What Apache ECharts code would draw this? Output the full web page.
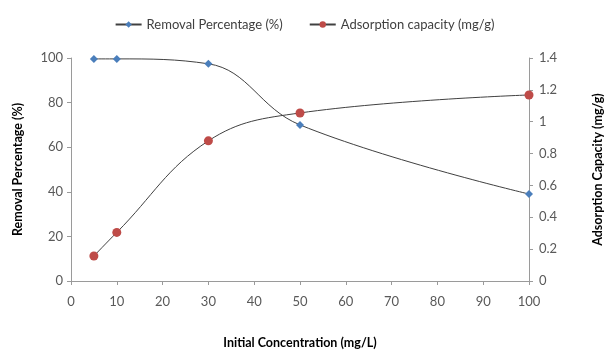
<!DOCTYPE html>
<html><head><meta charset="utf-8">
<script src="https://cdn.jsdelivr.net/npm/echarts@6/dist/echarts.min.js"></script>
<style>html,body{margin:0;padding:0;background:#fff}#c{width:609px;height:352px}</style>
</head><body><div id="c"></div>
<script>
const concentrations = [5, 10, 30, 50, 100];
const removalPct = [99.6, 99.6, 97.4, 70, 39];
const adsorptionCap = [0.157, 0.305, 0.88, 1.055, 1.168];
const xTicks = {min: 0, max: 100, interval: 10};
const yLeftTicks = {min: 0, max: 100, interval: 20};
const yRightTicks = {min: 0, max: 1.4, interval: 0.2};

const font = 'Lato, sans-serif';
const axisLine = {show: true, lineStyle: {color: '#9a9a9a', width: 1}};
const axisTick = {show: true, length: 4, lineStyle: {color: '#9a9a9a'}};
const axisLabel = {color: '#595959', fontSize: 13, fontFamily: font};
const nameStyle = {color: '#000', fontSize: 12.5, fontWeight: 'bold', fontFamily: font};

const chart = echarts.init(document.getElementById('c'), null, {renderer: 'canvas'});
chart.setOption({
  animation: false,
  legend: {
    top: 13, left: 'center', itemGap: 26, itemWidth: 26, itemHeight: 8,
    textStyle: {color: '#404040', fontSize: 13, fontFamily: font},
    data: ['Removal Percentage (%)', 'Adsorption capacity (mg/g)']
  },
  grid: {left: 71, right: 80, top: 58, bottom: 71, containLabel: false, outerBoundsMode: 'none'},
  xAxis: {
    type: 'value', min: xTicks.min, max: xTicks.max, interval: xTicks.interval,
    name: 'Initial Concentration (mg/L)', nameLocation: 'middle', nameGap: 55,
    nameTextStyle: nameStyle,
    axisLine, axisTick, axisLabel: Object.assign({margin: 14}, axisLabel), splitLine: {show: false}
  },
  yAxis: [{
    type: 'value', min: yLeftTicks.min, max: yLeftTicks.max, interval: yLeftTicks.interval,
    name: 'Removal Percentage (%)', nameLocation: 'middle', nameGap: 47, nameRotate: 90,
    nameTextStyle: nameStyle,
    axisLine, axisTick, axisLabel: Object.assign({margin: 8}, axisLabel), splitLine: {show: false}
  }, {
    type: 'value', position: 'right', min: yRightTicks.min, max: yRightTicks.max, interval: yRightTicks.interval,
    name: 'Adsorption Capacity (mg/g)', nameLocation: 'middle', nameGap: 62, nameRotate: 90,
    nameTextStyle: nameStyle,
    axisLine, axisTick, axisLabel: Object.assign({margin: 10, formatter: v => String(+v.toFixed(1))}, axisLabel), splitLine: {show: false}
  }],
  series: [{
    name: 'Removal Percentage (%)', type: 'line', yAxisIndex: 0, smooth: 0.4,
    data: concentrations.map((x, i) => [x, removalPct[i]]),
    symbol: 'diamond', symbolSize: 8,
    itemStyle: {color: '#4a7ebb'},
    lineStyle: {color: '#404040', width: 1}
  }, {
    name: 'Adsorption capacity (mg/g)', type: 'line', yAxisIndex: 1, smooth: 0.4,
    data: concentrations.map((x, i) => [x, adsorptionCap[i]]),
    symbol: 'circle', symbolSize: 9,
    itemStyle: {color: '#be4b48'},
    lineStyle: {color: '#404040', width: 1}
  }]
});
</script></body></html>
